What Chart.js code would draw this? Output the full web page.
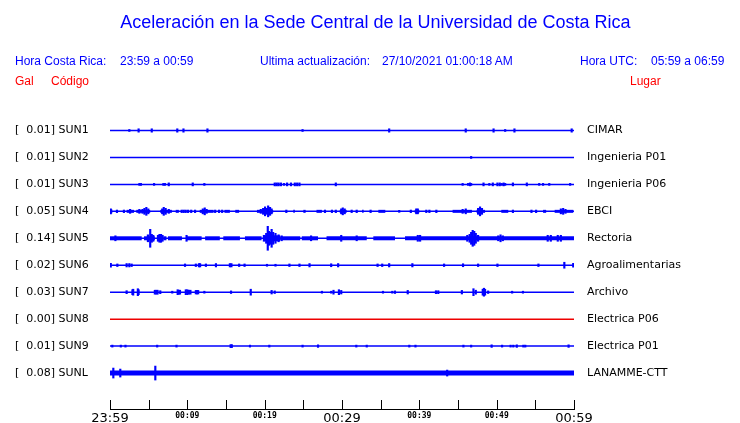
<!DOCTYPE html>
<html>
<head>
<meta charset="utf-8">
<script src="https://cdn.jsdelivr.net/npm/chart.js@4.4.0/dist/chart.umd.min.js"></script>
<style>
body { margin: 0; background: #fff; }
#wrap { position: relative; width: 740px; height: 423px; }
#c { position: absolute; left: 0; top: 0; }
.t { position: absolute; font-family: "Liberation Sans", Arial, sans-serif; white-space: pre; line-height: 1; font-size: 12px; color: #0000ff; }
.r { color: #ff0000; }
</style>
</head>
<body>
<div id="wrap">
  <canvas id="c" width="740" height="423"></canvas>
  <div class="t" style="left:0;width:751px;text-align:center;top:13px;font-size:18px">Aceleración en la Sede Central de la Universidad de Costa Rica</div>
  <div class="t" style="left:15px;top:55px">Hora Costa Rica:</div>
  <div class="t" style="left:120px;top:55px">23:59 a 00:59</div>
  <div class="t" style="left:260px;top:55px">Ultima actualización:</div>
  <div class="t" style="left:382px;top:55px">27/10/2021 01:00:18 AM</div>
  <div class="t" style="left:580px;top:55px">Hora UTC:</div>
  <div class="t" style="left:651px;top:55px">05:59 a 06:59</div>
  <div class="t r" style="left:15px;top:75px">Gal</div>
  <div class="t r" style="left:51px;top:75px">Código</div>
  <div class="t r" style="left:630px;top:75px">Lugar</div>
</div>
<script>
// stations, top to bottom
const codes = ['SUN1', 'SUN2', 'SUN3', 'SUN4', 'SUN5', 'SUN6', 'SUN7', 'SUN8', 'SUN9', 'SUNL'];
const places = ['CIMAR', 'Ingenieria P01', 'Ingenieria P06', 'EBCI', 'Rectoria', 'Agroalimentarias', 'Archivo', 'Electrica P06', 'Electrica P01', 'LANAMME-CTT'];
const gal = [0.01, 0.01, 0.01, 0.05, 0.14, 0.02, 0.03, 0.00, 0.01, 0.08];

// x axis: minutes after 23:59
const tickMinutes = [0, 5, 10, 15, 20, 25, 30, 35, 40, 45, 50, 55, 60];
const timeLabels = ['23:59', '00:09', '00:19', '00:29', '00:39', '00:49', '00:59'];

// spikes: [minute, half amplitude]
const sun1 = [[2.5,1],[3.7,1.7],[5.4,1.7],[8.7,1.7],[9.5,1.7],[12.6,1.7],[24.9,1],[36.1,1.7],[46.0,1.7],[49.6,1.7],[51.1,1],[52.3,1.7],[59.7,1.7]];
const sun2 = [[46.7,1]];
const sun3 = [[3.8,1],[4.0,1],[5.7,1],[6.9,1],[7.1,1],[7.6,1.5],[10.7,1.5],[12.2,1],[21.3,1.5],[21.55,1.5],[21.8,1.5],[22.1,1.5],[22.5,1],[22.9,1.5],[23.4,1.5],[23.9,1.5],[24.2,1.5],[24.5,1.5],[29.2,1.5],
  [45.6,1],[46.3,1],[46.55,1.5],[46.7,1],[48.3,1.5],[49.05,1],[49.5,1.5],[50.1,1.5],[50.4,1.5],[50.65,1],[50.9,1.5],[51.1,1],[52.1,1.5],[53.9,1.5],[55.5,1],[56.0,1],[56.8,1],[59.5,1]];
const sun4 = [[0.1,2.5],[0.9,1.3],[1.8,1.3],[2.6,2],[3.8,2],[4.2,2],[4.45,3],[4.7,4],[4.95,2.5],[6.75,2.5],[6.95,4],[7.2,3],[7.6,2],[9.27,1.3],[9.53,1.3],[9.79,1.3],[10.1,1.3],[10.5,1.3],[11.0,1.3],
  [12.0,2.5],[12.25,3.5],[12.5,2],[13.6,1.3],[14.1,1.3],[14.5,1.3],[19.5,2],[19.8,3],[20.05,4.5],[20.3,3],[20.45,5.5],[20.7,4],[20.9,2.5],[22.8,1.3],[27.8,1.3],[28.7,1.3],[29.2,1.3],
  [29.9,2.5],[30.1,3.5],[30.35,2.5],[31.25,1.3],[31.9,1.3],[33.7,1.3],[37.4,1],[38.9,1.3],[39.6,2.5],[39.8,2.5],[40.9,1.3],[41.3,1.3],[42.2,1.3],[45.6,2],[46.0,2.5],
  [47.6,3],[47.85,4.5],[48.1,3],[52.1,1.3],[54.5,1.3],[55.1,1.3],[58.3,2.5],[58.6,3],[58.9,2]];
const sun5 = [[0.7,2.5],[4.9,3.5],[5.2,9],[5.4,4],[5.6,3],[6.2,3],[6.4,4],[6.6,4],[6.8,3],[9.9,3],[19.9,3],[20.2,5],[20.4,12],[20.56,7],[20.75,6],[20.9,9],[21.1,6],[21.4,5],[21.8,3.5],[22.2,2.5],
  [26.0,2.5],[29.9,3],[31.9,2.5],[39.8,3],[40.1,3],[46.2,3],[46.5,4],[46.7,6],[46.9,8],[47.1,7],[47.3,5],[47.6,3],[50.2,2.5],[50.5,3.5],[50.8,2.5],[56.6,3],[57.0,3],[57.9,3],[58.3,3]];
const sun6 = [[0.1,2],[0.95,1.3],[2.15,1.7],[2.5,1.7],[2.8,1.3],[9.7,1.3],[11.1,1.3],[11.5,1.7],[11.65,1.7],[12.4,1.3],[13.7,1.7],[15.5,1.7],[15.7,1.7],[16.7,1.3],[17.4,1.3],[20.3,1],[21.4,1],
  [23.2,1.3],[24.5,1.3],[25.8,1.7],[28.6,1.5],[29.5,1.7],[34.6,1.3],[35.2,1.3],[36.1,1.7],[39.1,1.7],[43.2,1.3],[45.65,1.5],[47.6,1.3],[50.1,1.3],[55.4,1.3],[58.75,3],[59.9,2]];
const sun7 = [[2.15,1.5],[2.9,2.5],[3.0,3],[3.6,3.5],[3.7,2.5],[5.8,2],[6.0,2],[6.15,2],[6.5,1.5],[8.05,1],[8.75,2.5],[8.9,2],[9.05,2],[9.8,2.5],[10.0,2.5],[10.2,2],[10.4,2],[11.1,1.8],[11.25,1.8],[11.4,1.8],
  [12.2,1],[15.65,1.3],[18.2,3],[20.9,1.8],[21.3,1.3],[27.4,1],[28.6,1],[28.9,2],[29.6,2.5],[29.9,1.8],[35.3,1],[36.5,1],[36.85,1.3],[38.5,1.8],[42.15,1.5],[42.45,1.5],[45.5,1.8],
  [47.0,3.5],[47.3,2],[48.2,3],[48.35,4],[48.5,3],[48.9,1.3],[52.0,1],[53.4,1]];
const sun8 = [];
const sun9 = [[0.3,1],[1.4,1],[2.0,1],[6.1,1],[8.6,1],[15.6,1.5],[15.75,1.5],[18.1,1],[20.6,1],[24.9,1],[26.9,1.3],[31.85,1],[33.2,1],[38.7,1],[39.5,1],[45.7,1],[46.7,1],[49.35,1.3],
  [50.7,1],[51.8,1],[52.15,1],[52.6,1.3],[53.45,1],[53.7,1],[59.3,1.3]];
const sunL = [[0.43,5],[1.33,4],[5.86,7],[6.76,1.5],[43.6,3]];

// continuous noise: [from minute, to minute, half amplitude]
const sun4Bands = [[0,0.3,2],[2.15,3.1,1.5],[3.4,5.2,1.5],[6.5,8.0,1.5],[8.5,8.9,1.5],[11.6,13.4,1.5],[14.8,15.5,1.5],[16.2,16.7,1.5],[19.0,21.1,1.5],[23.7,23.9,1.5],[25.0,25.3,1.5],
  [26.7,27.4,1.5],[29.7,30.6,1.5],[32.6,32.8,1.5],[34.7,35.6,1.5],[39.4,40.0,1.5],[44.3,46.8,1.5],[47.4,48.5,1.5],[50.6,51.5,1.5],[56.0,56.4,1.5],[57.5,59.9,1.5]];
const sun5Bands = [[0,4.1,2],[4.4,5.8,2],[6.9,7.3,2],[7.5,9.3,2],[9.9,11.85,2],[12.3,14.2,2],[14.65,16.8,2],[17.45,19.6,2],[20.0,22.0,3],[22.0,24.6,2],[24.8,26.9,2],[28.0,33.2,2],
  [34.05,36.85,2],[38.15,60,2]];
const sunLBands = [[0,60,2.5]];

const spikes = [sun1, sun2, sun3, sun4, sun5, sun6, sun7, sun8, sun9, sunL];
const bands = [[], [], [], sun4Bands, sun5Bands, [], [], [], [], sunLBands];

const SLOT = 27;
const traceColor = i => gal[i] === 0 ? '#ee0000' : '#0000ff';

let datasets = [];
codes.forEach((code, i) => {
  const base = i * SLOT;
  datasets.push({
    type: 'line',
    data: [{x: 0, y: base}, {x: 60, y: base}],
    borderColor: traceColor(i),
    borderWidth: 1.5,
    pointRadius: 0
  });
  if (bands[i].length) {
    let pts = [];
    bands[i].forEach(b => {
      pts.push({x: b[0], y: base}, {x: b[1], y: base}, {x: b[1], y: null});
    });
    datasets.push({
      type: 'line',
      data: pts,
      borderColor: traceColor(i),
      borderCapStyle: 'butt',
      pointRadius: 0,
      spanGaps: false,
      segment: {
        borderWidth: ctx => {
          const y = ctx.chart.scales.y;
          const a = bands[i][Math.floor(ctx.p0DataIndex / 3)][2];
          return Math.abs(y.getPixelForValue(base + a) - y.getPixelForValue(base - a));
        }
      }
    });
  }
  if (spikes[i].length) {
    datasets.push({
      type: 'bar',
      data: spikes[i].map(s => ({x: s[0], y: [base - s[1], base + s[1]]})),
      backgroundColor: traceColor(i),
      borderWidth: 0,
      barThickness: 1.5,
      grouped: false
    });
  }
});

// tick marks point up from the time axis
const upTicks = {
  id: 'upTicks',
  afterDraw(chart) {
    const {ctx, scales: {x}, chartArea} = chart;
    ctx.save();
    ctx.strokeStyle = '#000';
    ctx.lineWidth = 1;
    x.ticks.forEach(t => {
      const px = Math.round(x.getPixelForValue(t.value)) + 0.5;
      ctx.beginPath();
      ctx.moveTo(px, chartArea.bottom - 9);
      ctx.lineTo(px, chartArea.bottom);
      ctx.stroke();
    });
    ctx.restore();
  }
};

const yRange = {min: -SLOT / 2, max: SLOT * 9 + SLOT / 2 + 22.5, reverse: true};
const noPad = s => { s.paddingTop = 0; s.paddingBottom = 0; };

new Chart(document.getElementById('c'), {
  type: 'bar',
  data: {datasets: datasets},
  options: {
    responsive: false,
    animation: false,
    events: [],
    layout: {padding: {top: 117, left: 15, right: 0, bottom: 0}},
    plugins: {legend: {display: false}, tooltip: {enabled: false}},
    scales: {
      x: {
        type: 'linear', min: 0, max: 60, offset: false,
        afterBuildTicks: s => { s.ticks = tickMinutes.map(v => ({value: v})); },
        afterFit: s => { s.height = 14; },
        grid: {display: false, drawTicks: false},
        border: {display: true, color: '#000', width: 1},
        ticks: {
          autoSkip: false, maxRotation: 0, padding: 2, color: '#000',
          callback: v => v % 10 === 0 ? timeLabels[v / 10] : '',
          font: ctx => (ctx.tick && ctx.tick.value % 30 === 0)
            ? {family: 'DejaVu Sans', size: 13}
            : {family: 'DejaVu Sans Mono', size: 8, weight: 'bold'}
        }
      },
      y: {
        type: 'linear', position: 'left', ...yRange,
        afterBuildTicks: s => { s.ticks = codes.map((c, i) => ({value: i * SLOT})); },
        afterFit: s => { s.width = 95; noPad(s); },
        grid: {display: false, drawTicks: false},
        border: {display: false},
        ticks: {
          autoSkip: false, crossAlign: 'far', padding: 0, color: '#000',
          font: {family: 'DejaVu Sans', size: 11},
          callback: (v, i) => '[  ' + gal[i].toFixed(2) + '] ' + codes[i]
        }
      },
      y2: {
        type: 'linear', position: 'right', ...yRange,
        afterBuildTicks: s => { s.ticks = codes.map((c, i) => ({value: i * SLOT})); },
        afterFit: s => { s.width = 166; noPad(s); },
        grid: {display: false, drawTicks: false},
        border: {display: false},
        ticks: {
          autoSkip: false, crossAlign: 'near', padding: 13, color: '#000',
          font: {family: 'DejaVu Sans', size: 11},
          callback: (v, i) => places[i]
        }
      }
    }
  },
  plugins: [upTicks]
});
</script>
</body>
</html>
